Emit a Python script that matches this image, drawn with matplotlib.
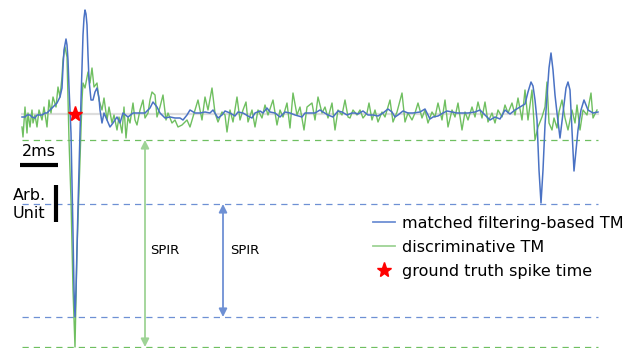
import matplotlib
matplotlib.use("Agg")
import matplotlib.pyplot as plt
from matplotlib.lines import Line2D

# time in samples (19 samples = 1 ms), amplitude in arbitrary units (37 = 1 unit)
blue_t = [0, 3, 5, 8, 10, 13, 15, 18, 20, 23, 25, 28, 30, 33, 35, 38, 40, 41, 42, 44, 45, 46, 47, 49, 51, 52,
          53, 54, 56, 58, 60, 61, 62, 63, 64, 65, 66, 67, 69, 71, 73, 75, 77, 78, 80, 82, 85, 88, 91, 95, 98,
          101, 106, 111, 118, 123, 128, 131, 135, 138, 143, 148, 153, 158, 161, 165, 168, 173, 178, 183, 188,
          191, 196, 200, 203, 208, 213, 216, 221, 226, 230, 233, 238, 241, 245, 248, 253, 258, 263, 268, 273,
          280, 283, 288, 293, 298, 301, 306, 311, 316, 320, 325, 330, 333, 336, 341, 346, 351, 356, 361, 366,
          370, 373, 376, 381, 386, 391, 398, 403, 408, 411, 416, 421, 425, 430, 435, 441, 446, 453, 458, 463,
          468, 473, 478, 483, 488, 493, 498, 503, 506, 509, 511, 513, 515, 517, 519, 521, 523, 525, 527, 529,
          531, 533, 535, 538, 541, 544, 546, 548, 550, 552, 554, 556, 559, 562, 566, 571, 576]
blue_a = [-3, -3, -1, -1, -3, -4, -1, -1, -1, 1, 1, 4, 6, 9, 11, 17, 26, 47, 64, 75, 69, 54, 27, -19, -119, -176,
          -203, -176, -93, -19, 47, 79, 96, 104, 100, 89, 59, 34, 14, 14, 22, 26, 16, 4, -9, 1, -6, -13, -9, -3, -9,
          1, -3, 1, 1, 1, 6, 12, 7, 1, -4, -3, -4, -4, -6, -1, 4, 1, 1, 2, 1,
          4, -4, -1, 3, 1, -2, 2, 1, -2, -4, 1, 3, 1, 6, 2, 1, -3, 2, 1, -1,
          -3, 1, 1, 1, 4, 2, -1, -3, 3, 2, -1, 1, 1, 0, 3, -1, -1, -2, 1, 5,
          2, -3, -1, 3, 1, 1, 2, 5, -5, -3, -2, 1, 3, 2, 1, 1, 1, 2, 4, -1,
          -6, -3, -5, 4, 0, 4, 7, 10, 22, 32, 28, 14, -6, -56, -89, -56, -11, 17, 46, 61,
          44, 19, 1, -24, 1, 26, 32, 24, -16, -57, -36, -16, 4, 14, 4, 1, 2]

green_t = [0, 1, 3, 5, 6, 8, 10, 11, 13, 15, 17, 20, 22, 25, 27, 29, 31, 34, 36, 38, 40, 41, 43, 45, 46, 47,
           49, 51, 53, 55, 58, 60, 61, 63, 66, 68, 70, 72, 75, 77, 80, 82, 85, 87, 90, 92, 95, 97, 100, 102,
           104, 106, 108, 111, 113, 115, 118, 121, 123, 126, 128, 130, 133, 135, 138, 141, 144, 146, 150, 153,
           156, 160, 163, 165, 168, 171, 176, 180, 183, 186, 190, 193, 196, 200, 203, 205, 208, 211, 215, 218,
           221, 224, 226, 230, 233, 236, 240, 243, 246, 251, 255, 258, 261, 265, 268, 271, 275, 278, 282, 285,
           290, 293, 296, 300, 303, 306, 310, 313, 316, 320, 323, 326, 328, 331, 335, 338, 341, 345, 347, 350,
           353, 356, 360, 363, 368, 371, 375, 380, 383, 386, 390, 393, 396, 400, 403, 406, 410, 413, 416, 420,
           423, 426, 430, 433, 436, 440, 443, 446, 450, 453, 456, 460, 463, 466, 470, 473, 476, 480, 483, 486,
           490, 493, 496, 500, 503, 506, 510, 513, 516, 520, 523, 525, 527, 530, 532, 535, 537, 540, 543, 546,
           550, 553, 555, 558, 561, 565, 569, 571, 575]
green_a = [-13, -23, 7, -19, 1, -13, 4, -9, -1, -13, 4, -6, 7, -13, 14, 1, 17, 7, 27, 17, 37, 54, 67, 57, 14, -26,
           -86, -176, -233, -136, -46, 14, 31, 26, 42, 31, 46, 27, 31, 14, 4, 16, -6, 7, -9, -1, -16, -3, -19, 7,
           -24, -3, -9, 11, -6, -11, 4, 14, -4, 1, 14, 22, 19, -3, 7, 19, -6, 1, -9, -6,
           -13, -11, -8, -6, -13, -3, 14, -6, 17, 4, 26, 1, -8, 2, -1, -18, 4, -8, 17, -6,
           4, 12, -8, 4, -13, 4, -4, 9, -1, 14, -11, 4, -3, 11, -14, 21, -1, 7, -16, 7,
           11, -6, 17, 1, 7, -4, 11, -16, 4, -1, 14, -3, -4, 4, -1, 4, -4, 1, 11, -6,
           4, -8, 2, -3, 14, -8, 2, 21, -8, 1, -6, 1, 11, -4, 4, -9, 2, -3, 11, -6,
           14, -13, 4, -3, 11, -16, 2, -6, 7, -3, 12, -4, 12, -8, 1, -9, 4, -3, 9, 1,
           11, -1, 16, -6, 24, -6, 24, -26, -13, -3, 7, 32, -9, -16, -4, -14, 2, 14, -4, -16,
           4, -9, 9, -16, 4, -1, 21, -4, 4]

spike_t = [53]          # ground truth spike time (samples)
blue_levels = [-90, -203]   # matched filtering: noise floor, spike peak
green_levels = [-26, -233]  # discriminative: noise floor, spike peak

BLUE = "#4a72c4"
GREEN = "#6fbf60"
GREEN_L = "#9ed395"
BLUE_L = "#6e90d4"

fig = plt.figure(figsize=(6.31, 3.48), dpi=100)
ax = fig.add_axes([0, 0, 1, 1])
ax.set_xlim(-22, 609)
ax.set_ylim(-234, 114)
ax.axis("off")

t0, t1 = blue_t[0], blue_t[-1]
ax.plot([t0, t1], [0, 0], color="#dddddd", lw=1.6, zorder=1)
ax.plot(green_t, green_a, color=GREEN, lw=1.0, zorder=2)
ax.plot(blue_t, blue_a, color=BLUE, lw=1.1, zorder=3)

for lv in green_levels:
    ax.plot([t0, t1], [lv, lv], color=GREEN, lw=0.9, ls=(0, (5, 4)), zorder=1)
for lv in blue_levels:
    ax.plot([t0, t1], [lv, lv], color=BLUE_L, lw=0.9, ls=(0, (5, 4)), zorder=1)

ax.annotate("", xy=(123, green_levels[1]), xytext=(123, green_levels[0]),
            arrowprops=dict(arrowstyle="<|-|>", color=GREEN_L, lw=1.3, mutation_scale=12,
                            shrinkA=0, shrinkB=0))
ax.annotate("", xy=(201, blue_levels[1]), xytext=(201, blue_levels[0]),
            arrowprops=dict(arrowstyle="<|-|>", color=BLUE_L, lw=1.3, mutation_scale=12,
                            shrinkA=0, shrinkB=0))
ax.text(128, -137, "SPIR", fontsize=9.5, va="center", ha="left")
ax.text(208, -137, "SPIR", fontsize=9.5, va="center", ha="left")

ax.plot(spike_t, [0], marker="*", color="red", ms=11, ls="none", zorder=4)

# scale bars
ax.plot([-2, 36], [-51, -51], color="black", lw=3, solid_capstyle="butt")
ax.text(17, -37, "2ms", fontsize=11.5, ha="center", va="center")
ax.plot([34, 34], [-71, -108], color="black", lw=3, solid_capstyle="butt")
ax.text(-9, -81, "Arb.", fontsize=11.5, ha="left", va="center")
ax.text(-9, -100, "Unit", fontsize=11.5, ha="left", va="center")

handles = [Line2D([], [], color=BLUE_L, lw=1.3),
           Line2D([], [], color=GREEN_L, lw=1.3),
           Line2D([], [], color="red", marker="*", ls="none", ms=11)]
labels = ["matched filtering-based TM", "discriminative TM", "ground truth spike time"]
ax.legend(handles, labels, loc="upper left", bbox_to_anchor=(373 / 631, 1 - 216 / 348),
          frameon=False, fontsize=11.5, handlelength=1.4, handletextpad=0.4,
          labelspacing=0.56, borderpad=0, borderaxespad=0)

fig.savefig("out.png", dpi=100)
